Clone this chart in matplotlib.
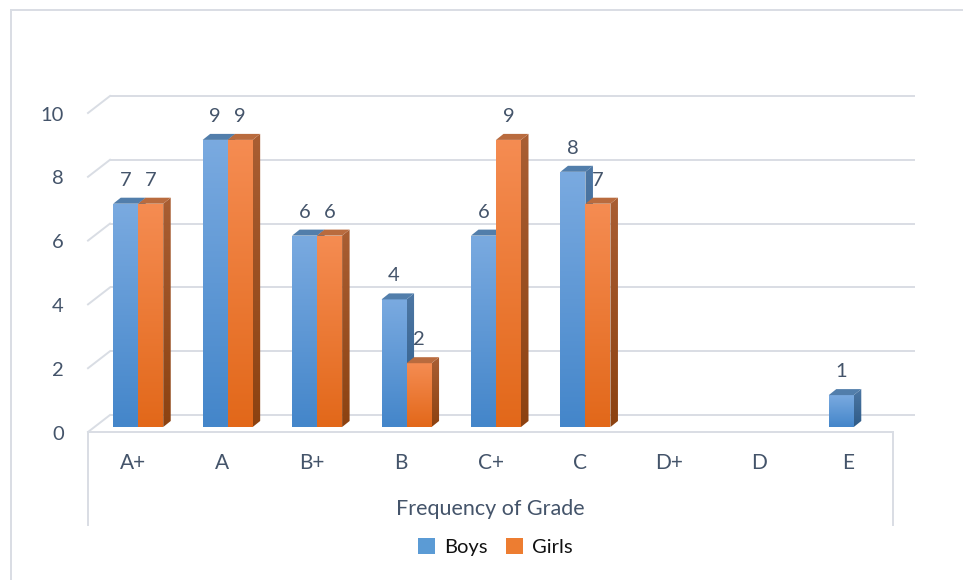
import numpy as np
import matplotlib
matplotlib.use("Agg")
import matplotlib.pyplot as plt
from matplotlib.patches import Polygon, Patch
from matplotlib.colors import to_rgb

# ---- data ----
grades = ["A+", "A", "B+", "B", "C+", "C", "D+", "D", "E"]
boys = [7, 9, 6, 4, 6, 8, 0, 0, 1]
girls = [7, 9, 6, 2, 9, 7, 0, 0, 0]
y_ticks = [0, 2, 4, 6, 8, 10]
series_names = ["Boys", "Girls"]
axis_title = "Frequency of Grade"

plt.rcParams["font.family"] = ["Lato", "DejaVu Sans"]

W, H = 963, 580
fig = plt.figure(figsize=(W / 100, H / 100), dpi=100)
ax = fig.add_axes([0, 0, 1, 1])

# front plane geometry (pixels): categories span 88..893, values 0..10 span 432..113
left_px, right_px, base_px, top_px = 88, 893, 432, 113
n = len(grades)
ppc = (right_px - left_px) / n          # pixels per category unit
ppv = (base_px - top_px) / 10           # pixels per value unit

# pseudo-3D offsets expressed in data units
wall_dx, wall_dy = 22 / ppc, 17 / ppv   # back wall
bar_dx0, bar_dy0 = 5.5 / ppc, 5 / ppv   # bar front-face depth
depth_dx, depth_dy = 7.5 / ppc, 6 / ppv # bar thickness
bar_w = 25 / ppc

grid_col = "#D9DDE4"
text_col = "#44546A"

x_lo, x_hi = -0.5, n - 0.5

# back wall gridlines and side-wall diagonals
for v in y_ticks:
    ax.plot([x_lo + wall_dx, x_hi + wall_dx], [v + wall_dy, v + wall_dy],
            color=grid_col, lw=1.4, zorder=1, solid_capstyle="butt")
    ax.plot([x_lo, x_lo + wall_dx], [v, v + wall_dy],
            color=grid_col, lw=1.4, zorder=1)
    ax.text(x_lo - 24 / ppc, v - 2 / ppv, str(v), ha="right", va="center",
            fontsize=14.5, color=text_col)

# front floor edge and category box
box_bottom = (base_px - 525) / ppv
ax.plot([x_lo, x_hi], [0, 0], color=grid_col, lw=1.4, zorder=1)
ax.plot([x_lo, x_lo], [0, box_bottom], color=grid_col, lw=1.4, zorder=1)
ax.plot([x_hi, x_hi], [0, box_bottom], color=grid_col, lw=1.4, zorder=1)


def shaded(poly_xy, top_col, bot_col, z):
    poly = Polygon(poly_xy, closed=True, facecolor="none", edgecolor="none")
    ax.add_patch(poly)
    xs = [p[0] for p in poly_xy]
    ys = [p[1] for p in poly_xy]
    t = np.linspace(0, 1, 64)[:, None, None]
    img = (1 - t) * np.array(to_rgb(top_col)) + t * np.array(to_rgb(bot_col))
    im = ax.imshow(img, extent=(min(xs), max(xs), min(ys), max(ys)),
                   aspect="auto", interpolation="bilinear", origin="upper",
                   zorder=z)
    im.set_clip_path(poly)


styles = {
    "Boys": dict(front=("#7AAAE0", "#4486CA"), side=("#4D77A4", "#2E5B87"),
                 top="#527EAB"),
    "Girls": dict(front=("#F58C52", "#E2681A"), side=("#A95E33", "#8C4211"),
                  top="#B96B3E"),
}


def draw_bar(x0, v, st, z):
    x1 = x0 + bar_w
    y0 = bar_dy0
    y1 = y0 + v
    shaded([(x0, y0), (x1, y0), (x1, y1), (x0, y1)], *st["front"], z)
    shaded([(x1, y0), (x1 + depth_dx, y0 + depth_dy),
            (x1 + depth_dx, y1 + depth_dy), (x1, y1)], *st["side"], z)
    ax.add_patch(Polygon([(x0, y1), (x1, y1), (x1 + depth_dx, y1 + depth_dy),
                          (x0 + depth_dx, y1 + depth_dy)], closed=True,
                         facecolor=st["top"], edgecolor="none", zorder=z))


label_gap = 23.5 / ppv
for i in range(n):
    c = i + bar_dx0
    for k, (vals, name) in enumerate(((boys, "Boys"), (girls, "Girls"))):
        v = vals[i]
        if v <= 0:
            continue
        x0 = c - bar_w + k * bar_w
        draw_bar(x0, v, styles[name], 3 + i * 2 + k)
        ax.text(x0 + bar_w / 2, bar_dy0 + v + label_gap, str(v),
                ha="center", va="center", fontsize=14.5, color=text_col,
                zorder=50)

# category labels and axis title
for i, g in enumerate(grades):
    ax.text(i, (base_px - 463) / ppv, g, ha="center", va="center",
            fontsize=15, color=text_col)
ax.text((x_lo + x_hi) / 2, (base_px - 509) / ppv, axis_title, ha="center",
        va="center", fontsize=15.5, color=text_col)

# outer chart border
fig.add_artist(plt.Line2D([11 / W, 11 / W], [0, 1 - 10 / H],
                          color=grid_col, lw=1.4))
fig.add_artist(plt.Line2D([11 / W, 1], [1 - 10 / H, 1 - 10 / H],
                          color=grid_col, lw=1.4))

handles = [Patch(facecolor="#5B9BD5"), Patch(facecolor="#ED7D31")]
ax.legend(handles, series_names, loc="center",
          bbox_to_anchor=(495 / W, 1 - 547 / H), bbox_transform=fig.transFigure,
          ncol=2, frameon=False, fontsize=14.5, handlelength=0.85,
          handleheight=0.85, handletextpad=0.45, columnspacing=0.9,
          labelcolor="#111111")

ax.set_xlim(x_lo - left_px / ppc, x_lo + (W - left_px) / ppc)
ax.set_ylim((base_px - H) / ppv, base_px / ppv)
ax.axis("off")

fig.savefig("out.png", dpi=100)
